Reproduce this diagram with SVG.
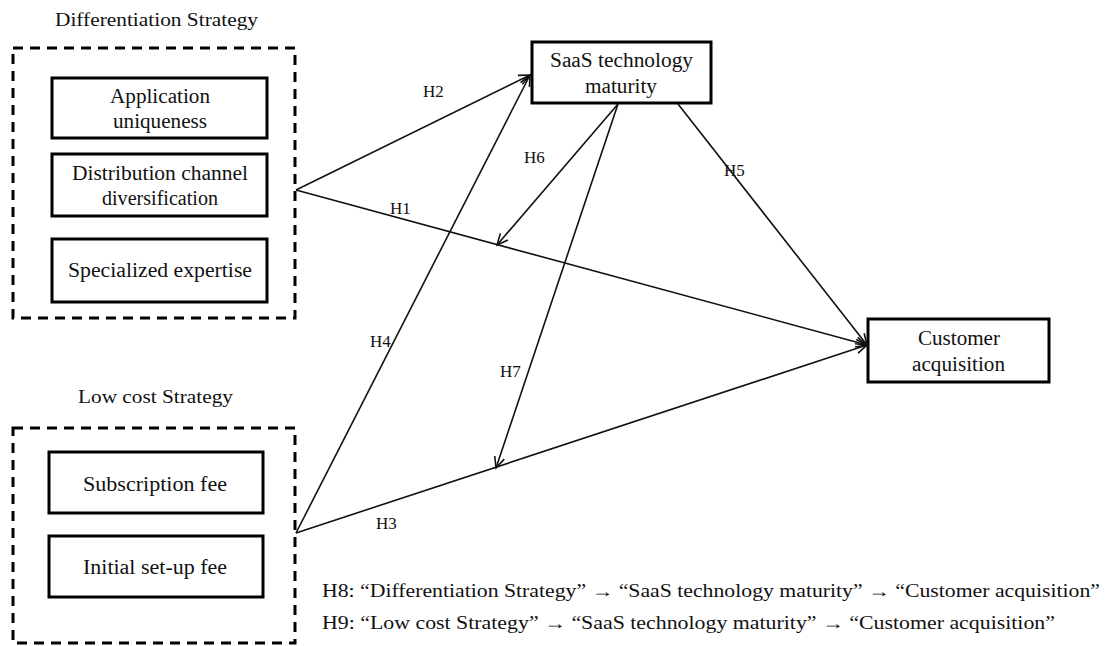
<svg xmlns="http://www.w3.org/2000/svg" width="1109" height="646" viewBox="0 0 1109 646">
<style>
text{font-family:"Liberation Serif","Times New Roman",serif;fill:#111;}
.t{font-size:18px;}
.n{font-size:20px;text-anchor:start;}
.h{font-size:17px;}
.box{fill:#fff;stroke:#000;stroke-width:3;}
.dash{fill:none;stroke:#000;stroke-width:3;stroke-dasharray:10 7;}
.c{fill:none;stroke:#111;stroke-width:1.6;}
</style>
<defs>
<marker id="ah" markerUnits="userSpaceOnUse" markerWidth="14" markerHeight="12" refX="12" refY="6" orient="auto">
<path d="M1,1 L12,6 L1,11" fill="none" stroke="#111" stroke-width="1.6"/>
</marker>
</defs>
<rect width="1109" height="646" fill="#fff"/>

<g id="differentiation">
<text class="t" x="55" y="26" textLength="203" lengthAdjust="spacingAndGlyphs">Differentiation Strategy</text>
<rect class="dash" x="13" y="48" width="282" height="270"/>
</g>
<g id="app">
<rect class="box" x="52" y="78" width="215" height="60"/>
<text class="n" x="110" y="103" textLength="100" lengthAdjust="spacingAndGlyphs">Application</text>
<text class="n" x="113" y="128" textLength="94" lengthAdjust="spacingAndGlyphs">uniqueness</text>
</g>
<g id="dist">
<rect class="box" x="52" y="154" width="215" height="62"/>
<text class="n" x="72" y="180" textLength="176" lengthAdjust="spacingAndGlyphs">Distribution channel</text>
<text class="n" x="102" y="205" textLength="116" lengthAdjust="spacingAndGlyphs">diversification</text>
</g>
<g id="spec">
<rect class="box" x="52" y="239" width="215" height="63"/>
<text class="n" x="68" y="277" textLength="184" lengthAdjust="spacingAndGlyphs">Specialized expertise</text>
</g>

<g id="lowcost">
<text class="t" x="78" y="403" textLength="155" lengthAdjust="spacingAndGlyphs">Low cost Strategy</text>
<rect class="dash" x="13" y="428" width="282" height="215"/>
</g>
<g id="sub">
<rect class="box" x="49" y="452" width="214" height="61"/>
<text class="n" x="83" y="491" textLength="144" lengthAdjust="spacingAndGlyphs">Subscription fee</text>
</g>
<g id="init">
<rect class="box" x="49" y="536" width="214" height="61"/>
<text class="n" x="83" y="574" textLength="144" lengthAdjust="spacingAndGlyphs">Initial set-up fee</text>
</g>

<g id="saas">
<rect class="box" x="532" y="42" width="179" height="61"/>
<text class="n" x="550" y="67" textLength="143" lengthAdjust="spacingAndGlyphs">SaaS technology</text>
<text class="n" x="585" y="93" textLength="72" lengthAdjust="spacingAndGlyphs">maturity</text>
</g>
<g id="customer">
<rect class="box" x="868" y="319" width="181" height="63"/>
<text class="n" x="918" y="345" textLength="82" lengthAdjust="spacingAndGlyphs">Customer</text>
<text class="n" x="912" y="371" textLength="93" lengthAdjust="spacingAndGlyphs">acquisition</text>
</g>

<g id="connectors">
<line class="c" x1="296" y1="190" x2="530" y2="75" marker-end="url(#ah)"/>
<line class="c" x1="296" y1="190" x2="867" y2="345" marker-end="url(#ah)"/>
<line class="c" x1="296" y1="533" x2="530" y2="75" marker-end="url(#ah)"/>
<line class="c" x1="296" y1="533" x2="867" y2="345" marker-end="url(#ah)"/>
<line class="c" x1="618" y1="104" x2="497" y2="245" marker-end="url(#ah)"/>
<line class="c" x1="618" y1="104" x2="496" y2="468" marker-end="url(#ah)"/>
<line class="c" x1="678" y1="104" x2="867" y2="345" marker-end="url(#ah)"/>
</g>

<g id="labels">
<text class="h" x="423" y="97">H2</text>
<text class="h" x="524" y="163">H6</text>
<text class="h" x="390" y="214">H1</text>
<text class="h" x="724" y="176">H5</text>
<text class="h" x="370" y="347">H4</text>
<text class="h" x="500" y="377">H7</text>
<text class="h" x="376" y="529">H3</text>
</g>

<g id="notes">
<text class="t" x="322" y="597" textLength="778" lengthAdjust="spacingAndGlyphs">H8: “Differentiation Strategy” → “SaaS technology maturity” → “Customer acquisition”</text>
<text class="t" x="322" y="629" textLength="733" lengthAdjust="spacingAndGlyphs">H9: “Low cost Strategy” → “SaaS technology maturity” → “Customer acquisition”</text>
</g>
</svg>
